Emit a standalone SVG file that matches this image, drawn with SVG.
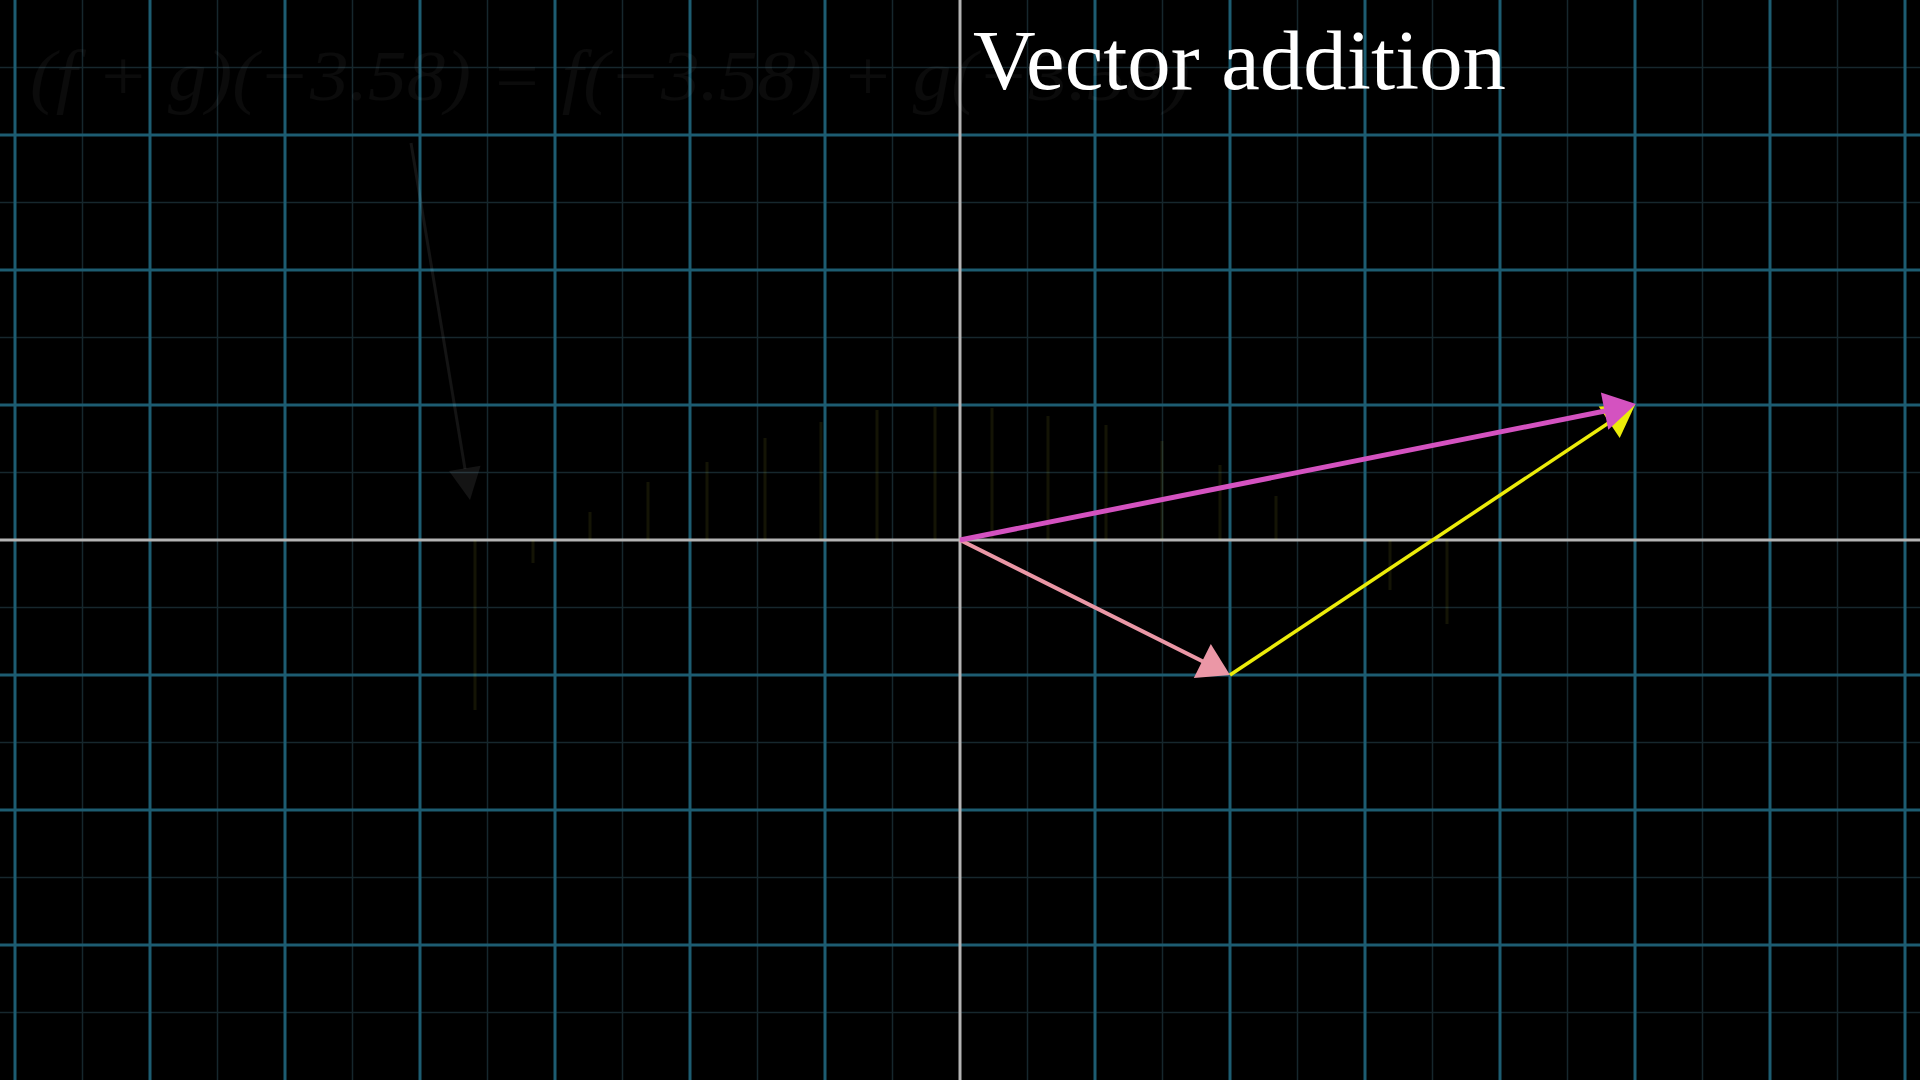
<svg xmlns="http://www.w3.org/2000/svg" width="1920" height="1080" viewBox="0 0 1920 1080">
<style>
.minor{stroke:#16272d;stroke-width:1.5;fill:none}
.major{stroke:#1d5c71;stroke-width:3;fill:none}
.axis{stroke:#b4b4b4;stroke-width:3;fill:none}
.ghost-bar{stroke:#ffff40;stroke-opacity:0.08;stroke-width:3}
.ghost{fill:#ffffff;fill-opacity:0.045;font-family:"Liberation Serif",serif;font-style:italic}
.title{fill:#ffffff;font-family:"Liberation Serif",serif;font-size:85px}
.v-pink{stroke:#eb97a6;stroke-width:4}
.v-yellow{stroke:#ecec0a;stroke-width:3.5}
.v-magenta{stroke:#d452c0;stroke-width:5}
.h-pink{fill:#eb97a6}
.h-yellow{fill:#ecec0a}
.h-magenta{fill:#d452c0}
</style>
<rect x="0" y="0" width="1920" height="1080" fill="#000000"/>
<g id="grid">
<path class="minor" d="M82.5 0V1080M217.5 0V1080M352.5 0V1080M487.5 0V1080M622.5 0V1080M757.5 0V1080M892.5 0V1080M1027.5 0V1080M1162.5 0V1080M1297.5 0V1080M1432.5 0V1080M1567.5 0V1080M1702.5 0V1080M1837.5 0V1080M0 67.5H1920M0 202.5H1920M0 337.5H1920M0 472.5H1920M0 607.5H1920M0 742.5H1920M0 877.5H1920M0 1012.5H1920"/>
<path class="major" d="M15 0V1080M150 0V1080M285 0V1080M420 0V1080M555 0V1080M690 0V1080M825 0V1080M1095 0V1080M1230 0V1080M1365 0V1080M1500 0V1080M1635 0V1080M1770 0V1080M1905 0V1080M0 135H1920M0 270H1920M0 405H1920M0 675H1920M0 810H1920M0 945H1920"/>
</g>
<g id="axes">
<path class="axis" d="M0 540H1920M960 0V1080"/>
</g>
<g id="ghost">
<text class="ghost" x="30" y="100" font-size="72" textLength="1160" lengthAdjust="spacingAndGlyphs">(f + g)(−3.58) = f(−3.58) + g(−3.58)</text>
<path class="ghost-bar" d="M475 540V710M533 540V563M590 540V512M648 540V482M707 540V462M765 540V438M821 540V422M877 540V410M935 540V407M992 540V408M1048 540V416M1106 540V425M1162 540V441M1220 540V465M1276 540V496M1390 540V590M1447 540V624"/>
<line x1="411" y1="143" x2="465" y2="469" stroke="#ffffff" stroke-opacity="0.08" stroke-width="3"/>
<polygon points="470,500 449,471 480.6,465.8" fill="#ffffff" fill-opacity="0.08"/>
</g>
<g id="title">
<text class="title" x="973" y="89" textLength="533" lengthAdjust="spacingAndGlyphs">Vector addition</text>
</g>
<g id="connectors">
<g id="vec-pink">
<line class="v-pink" x1="960" y1="540" x2="1203" y2="661.5"/>
<polygon class="h-pink" points="1230,675 1193.8,678.1 1210.8,644.1"/>
</g>
<g id="vec-yellow">
<line class="v-yellow" x1="1230" y1="675" x2="1610" y2="422"/>
<polygon class="h-yellow" points="1635,405 1619.7,438 1598.7,406.4"/>
</g>
<g id="vec-magenta">
<line class="v-magenta" x1="960" y1="540" x2="1605" y2="411"/>
<polygon class="h-magenta" points="1636,404 1608.3,429.7 1600.9,392.5"/>
</g>
</g>
</svg>
